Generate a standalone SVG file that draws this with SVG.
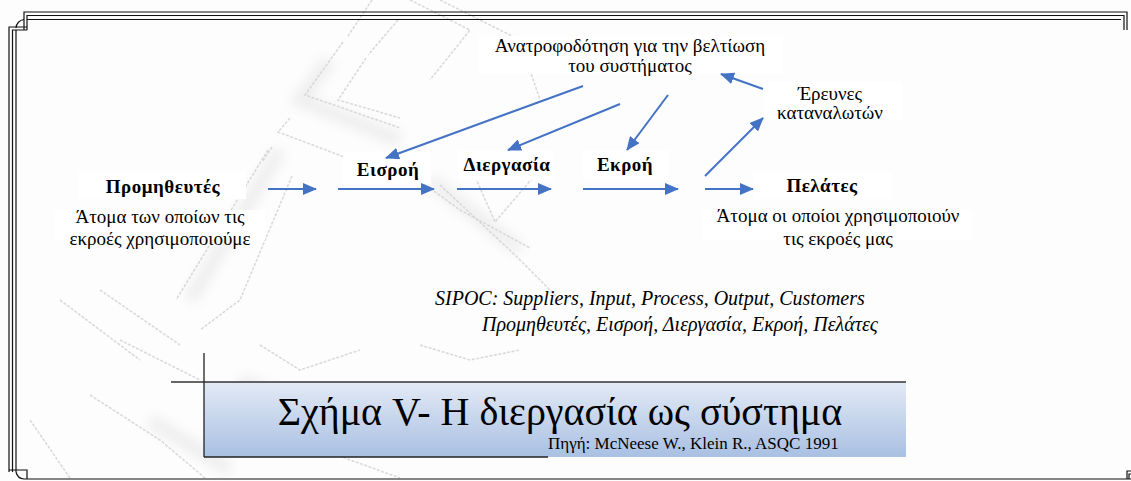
<svg xmlns="http://www.w3.org/2000/svg" width="1131" height="481" viewBox="0 0 1131 481">
  <defs>
    <style>
      text { font-family: "Liberation Serif", serif; fill: #000; }
      .lbl { font-size: 19px; text-anchor: middle; }
      .step { font-size: 19px; font-weight: bold; letter-spacing: 0.5px; text-anchor: middle; }
      .legend { font-size: 20px; font-style: italic; }
      .frame { fill: none; stroke: #111; stroke-width: 1.2; }
      .conn { fill: none; stroke: #4472C4; stroke-width: 2; }
      .wm { fill: none; stroke: #d4d4d4; stroke-width: 1.6; stroke-dasharray: 3 1.5; }
      .wmband { fill: none; stroke: #eeeeee; stroke-width: 14; }
      .bg { fill: #fff; }
    </style>
    <marker id="ah" markerUnits="userSpaceOnUse" markerWidth="14" markerHeight="12" refX="13" refY="6" orient="auto">
      <path d="M0,0 L14,6 L0,12 z" fill="#4472C4"/>
    </marker>
    <linearGradient id="capGrad" x1="0" y1="0" x2="0" y2="1">
      <stop offset="0" stop-color="#e3eaf5"/>
      <stop offset="1" stop-color="#a9c0e3"/>
    </linearGradient>
    <filter id="soft" x="-5%" y="-5%" width="110%" height="110%">
      <feGaussianBlur stdDeviation="0.7"/>
    </filter>
    <filter id="haze" x="-10%" y="-10%" width="120%" height="120%">
      <feGaussianBlur stdDeviation="6"/>
    </filter>
  </defs>

  <rect width="1131" height="481" fill="#fdfdfd"/>

  <!-- faint logo watermark in the background -->
  <g id="watermark-haze" class="wmband" filter="url(#haze)">
    <polyline points="330,60 300,100 400,140"/>
    <polyline points="280,150 190,300"/>
    <polyline points="430,180 520,250"/>
    <polyline points="150,420 230,470"/>
    <polyline points="240,380 380,440"/>
  </g>
  <g id="watermark" class="wm" filter="url(#soft)" opacity="0.85">
    <polyline points="372,0 348,36"/>
    <polyline points="343,42 305,95 400,128"/>
    <polyline points="366,58 338,100 400,118"/>
    <polyline points="398,20 368,55"/>
    <polyline points="290,118 278,132 400,178"/>
    <polyline points="272,147 262,162"/>
    <polyline points="410,0 470,30 430,80"/>
    <polyline points="440,0 520,40"/>
    <polyline points="520,40 540,100"/>
    <polyline points="268,150 176,300"/>
    <polyline points="292,176 240,300 200,330"/>
    <polyline points="405,170 460,210 530,248"/>
    <polyline points="470,165 495,222 548,160"/>
    <polyline points="440,185 515,255 560,300"/>
    <polyline points="212,400 240,420 400,478"/>
    <polyline points="90,395 160,440 205,478"/>
    <polyline points="120,340 200,380"/>
    <polyline points="260,345 300,370 360,350"/>
    <polyline points="420,345 470,360 520,350"/>
    <polyline points="60,300 140,360"/>
    <polyline points="100,290 180,345"/>
    <polyline points="30,420 70,478"/>
  </g>

  <!-- page frame -->
  <g id="frame" class="frame">
    <path d="M24,30 V12 H1127 V30"/>
    <path d="M27,30 V15.5 H1124 V30"/>
    <path d="M27,19.5 H1121"/>
    <path d="M9,472 V27 H27"/>
    <path d="M12.5,472 V30 H27"/>
    <path d="M16,472 V30"/>
    <path d="M16,28 A9,9 0 0 1 24,19.5"/>
    <path d="M9,470 H27 V479"/>
    <path d="M16,472 A9,9 0 0 0 24,479"/>
    <path d="M24,479 H1131"/>
    <path d="M1127,479 V471 H1131"/>
    <path d="M1129,479 V474 H1131"/>
  </g>

  <!-- nodes -->
  <g id="node-feedback">
    <rect class="bg" x="478" y="36" width="305" height="38"/>
    <text class="lbl" x="630" y="52">Ανατροφοδότηση για την βελτίωση</text>
    <text class="lbl" x="630" y="72">του συστήματος</text>
  </g>

  <g id="node-surveys">
    <rect class="bg" x="764" y="82" width="138" height="38"/>
    <text class="lbl" x="830" y="100">Έρευνες</text>
    <text class="lbl" x="830" y="119">καταναλωτών</text>
  </g>

  <g id="node-suppliers">
    <rect class="bg" x="78" y="172" width="168" height="27"/>
    <text class="step" x="163" y="193">Προμηθευτές</text>
    <rect class="bg" x="55" y="210" width="210" height="30"/>
    <text class="lbl" x="160" y="223">Άτομα των οποίων τις</text>
    <text class="lbl" x="160" y="245">εκροές χρησιμοποιούμε</text>
  </g>

  <g id="node-input">
    <rect class="bg" x="343" y="152" width="88" height="32"/>
    <text class="step" x="388" y="176">Εισροή</text>
  </g>

  <g id="node-process">
    <rect class="bg" x="458" y="150" width="96" height="30"/>
    <text class="step" x="507" y="171">Διεργασία</text>
  </g>

  <g id="node-output">
    <rect class="bg" x="583" y="150" width="86" height="30"/>
    <text class="step" x="625" y="171">Εκροή</text>
  </g>

  <g id="node-customers">
    <rect class="bg" x="753" y="172" width="139" height="27"/>
    <text class="step" x="822" y="192">Πελάτες</text>
    <rect class="bg" x="703" y="210" width="269" height="30"/>
    <text class="lbl" x="838" y="222">Άτομα οι οποίοι χρησιμοποιούν</text>
    <text class="lbl" x="838" y="245">τις εκροές μας</text>
  </g>

  <!-- connectors -->
  <g id="connectors" class="conn" marker-end="url(#ah)">
    <line x1="268" y1="189" x2="316" y2="189"/>
    <line x1="338" y1="189" x2="434" y2="189"/>
    <line x1="457" y1="189" x2="551" y2="189"/>
    <line x1="583" y1="189" x2="678" y2="189"/>
    <line x1="705" y1="189" x2="753" y2="189"/>
    <line x1="705" y1="176" x2="763" y2="118"/>
    <line x1="583" y1="86" x2="386" y2="158"/>
    <line x1="620" y1="104" x2="508" y2="150"/>
    <line x1="668" y1="95" x2="627" y2="150"/>
    <line x1="763" y1="89" x2="721" y2="74"/>
  </g>

  <!-- acronym legend -->
  <g id="legend">
    <text class="legend" x="435" y="305">SIPOC: Suppliers, Input, Process, Output, Customers</text>
    <text class="legend" x="482" y="331">Προμηθευτές, Εισροή, Διεργασία, Εκροή, Πελάτες</text>
  </g>

  <!-- figure caption -->
  <g id="caption">
    <rect x="204" y="382" width="702" height="75" fill="url(#capGrad)"/>
    <line x1="171" y1="382" x2="906" y2="382" stroke="#333" stroke-width="1.3"/>
    <line x1="204" y1="353" x2="204" y2="457" stroke="#222" stroke-width="1.3"/>
    <line x1="204" y1="457" x2="548" y2="457" stroke="#222" stroke-width="1.3"/>
    <text x="560" y="425" font-size="40" text-anchor="middle">Σχήμα V- Η διεργασία ως σύστημα</text>
    <text x="548" y="449" font-size="17">Πηγή: McNeese W., Klein R., ASQC 1991</text>
  </g>
</svg>
